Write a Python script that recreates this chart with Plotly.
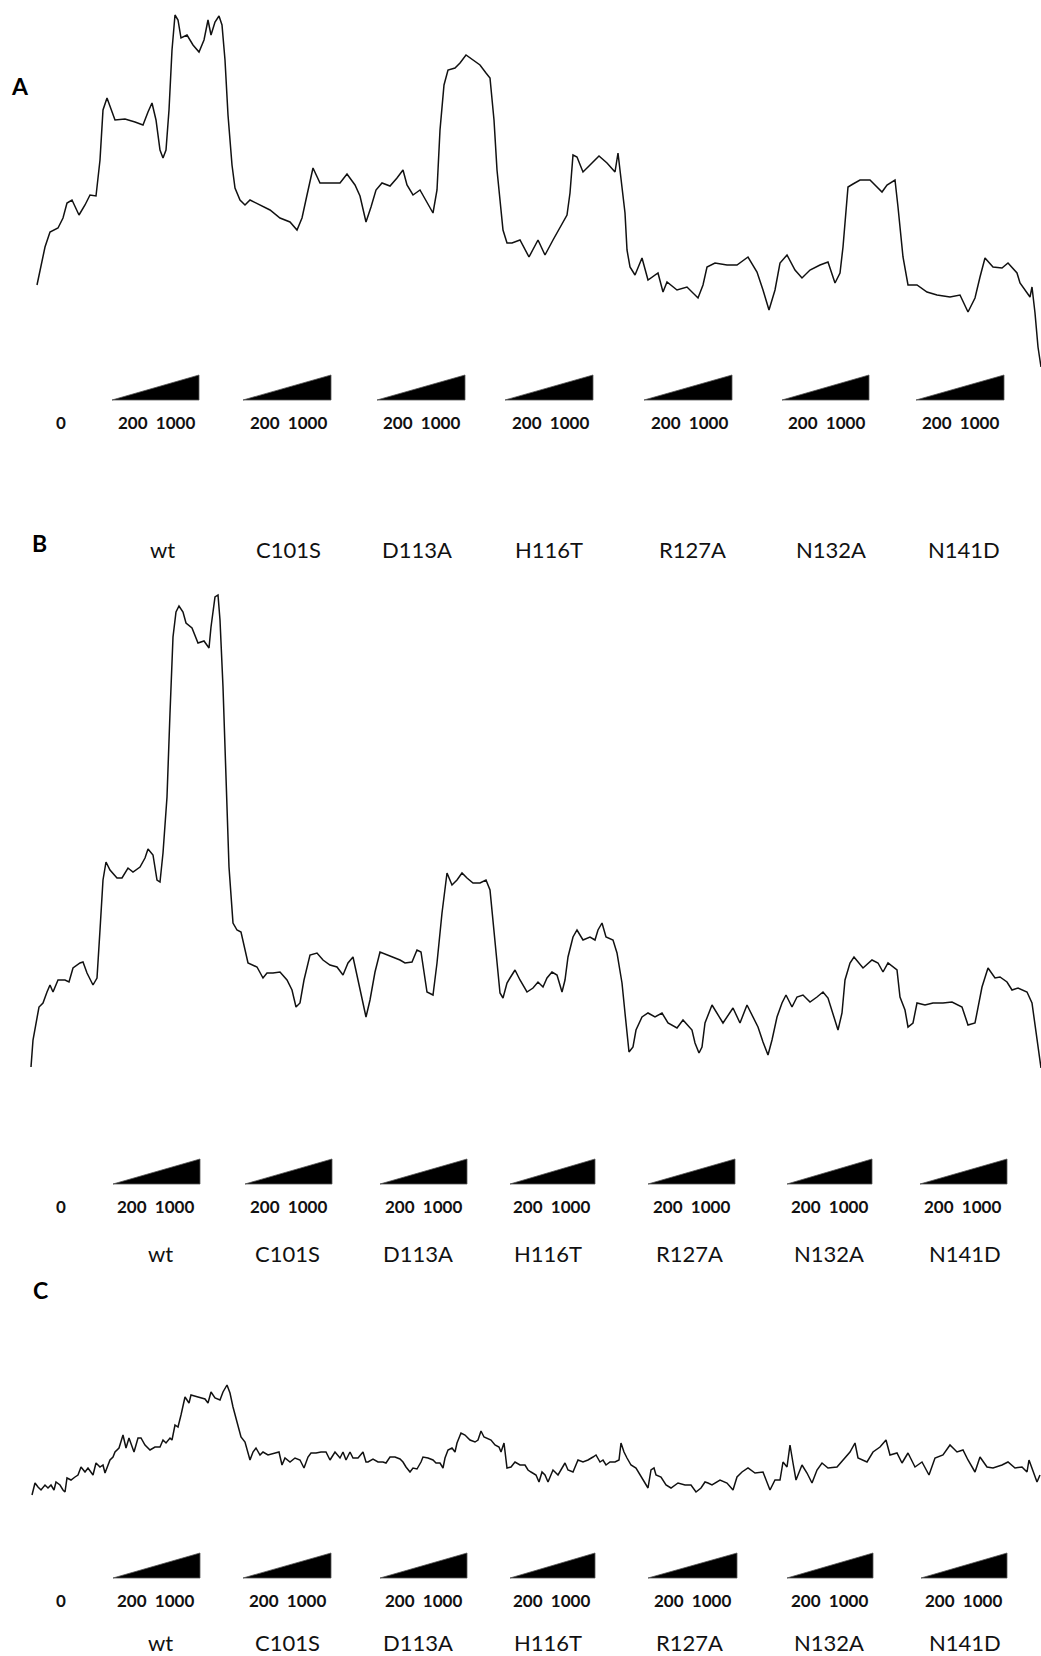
import plotly.graph_objects as go

W, H = 1041, 1656

# ---------------- data (scan position vs. band density) ----------------
A_pos = [37, 40, 45, 50, 58, 63, 67, 72, 79, 85,
         90, 96, 100, 103, 107, 115, 125, 135, 143, 148,
         152, 156, 160, 163, 166, 169, 172, 175, 178, 181,
         187, 193, 199, 204, 208, 211, 215, 219, 222, 225,
         228, 232, 235, 240, 245, 250, 260, 270, 280, 290,
         297, 302, 307, 313, 320, 330, 340, 347, 355, 360,
         366, 371, 376, 382, 390, 397, 403, 407, 413, 420,
         426, 433, 437, 440, 444, 448, 455, 460, 466, 473,
         480, 486, 490, 494, 497, 500, 503, 507, 512, 520,
         529, 538, 545, 553, 560, 567, 570, 573, 577, 583,
         590, 599, 607, 615, 618, 622, 625, 627, 630, 635,
         642, 648, 658, 663, 667, 677, 687, 698, 703, 707,
         715, 727, 737, 748, 757, 763, 769, 775, 780, 787,
         795, 802, 810, 820, 828, 835, 840, 843, 848, 853,
         860, 870, 882, 887, 895, 898, 903, 908, 917, 927,
         937, 950, 960, 968, 975, 980, 985, 993, 1002, 1008,
         1017, 1020, 1030, 1032, 1035, 1038, 1041]
A_density = [115, 130, 153, 168, 172, 182, 197, 200, 185, 195,
             205, 204, 240, 290, 302, 280, 281, 278, 275, 288,
             297, 280, 250, 242, 250, 290, 350, 385, 380, 362,
             365, 355, 348, 360, 380, 365, 378, 384, 375, 340,
             285, 235, 212, 200, 195, 200, 195, 190, 182, 178,
             170, 182, 205, 232, 217, 217, 217, 226, 215, 204,
             178, 193, 210, 217, 214, 222, 230, 215, 205, 210,
             200, 187, 210, 270, 315, 330, 332, 337, 345, 340,
             335, 327, 322, 280, 230, 200, 170, 157, 157, 160,
             143, 160, 145, 160, 173, 185, 207, 245, 243, 228,
             235, 244, 237, 228, 247, 213, 187, 150, 133, 125,
             142, 120, 127, 108, 118, 110, 113, 102, 115, 133,
             137, 135, 135, 143, 128, 110, 90, 110, 137, 145,
             130, 122, 130, 135, 138, 117, 127, 153, 213, 216,
             220, 220, 208, 215, 220, 193, 143, 115, 115, 108,
             105, 103, 105, 88, 102, 123, 142, 133, 132, 137,
             127, 117, 103, 113, 87, 53, 33]

B_pos = [31, 33, 39, 43, 47, 50, 53, 58, 65, 69,
         73, 80, 83, 87, 93, 97, 100, 103, 106, 110,
         117, 122, 128, 133, 140, 145, 148, 153, 157, 160,
         163, 167, 170, 173, 176, 179, 183, 186, 192, 198,
         204, 209, 211, 215, 218, 220, 223, 226, 229, 233,
         237, 241, 248, 257, 263, 267, 273, 280, 287, 292,
         296, 300, 304, 310, 317, 323, 330, 337, 343, 348,
         353, 358, 366, 370, 375, 380, 387, 393, 400, 405,
         412, 417, 421, 427, 433, 437, 442, 447, 452, 457,
         462, 467, 473, 480, 486, 490, 493, 497, 500, 503,
         507, 510, 515, 520, 527, 533, 538, 543, 547, 552,
         557, 562, 565, 568, 573, 577, 583, 590, 595, 598,
         602, 606, 613, 617, 622, 625, 629, 633, 636, 642,
         648, 655, 662, 668, 677, 683, 692, 695, 699, 702,
         705, 712, 717, 723, 733, 740, 747, 753, 758, 763,
         768, 772, 777, 782, 786, 792, 797, 803, 810, 817,
         823, 828, 833, 838, 842, 845, 850, 854, 863, 872,
         878, 883, 888, 897, 900, 905, 908, 913, 917, 925,
         933, 943, 952, 962, 968, 975, 982, 988, 995, 1000,
         1007, 1012, 1018, 1027, 1032, 1035, 1038, 1041]
B_density = [33, 60, 93, 97, 108, 115, 108, 120, 120, 118,
             132, 137, 138, 127, 115, 122, 170, 220, 238, 230,
             222, 222, 232, 228, 233, 242, 251, 245, 220, 218,
             247, 303, 387, 463, 488, 494, 488, 477, 472, 457,
             459, 452, 473, 503, 505, 480, 413, 327, 233, 177,
             170, 168, 137, 133, 122, 127, 127, 128, 120, 110,
             93, 97, 120, 145, 147, 140, 135, 133, 125, 137,
             143, 120, 83, 100, 128, 148, 145, 143, 140, 137,
             138, 150, 148, 108, 105, 137, 187, 227, 215, 220,
             227, 222, 217, 217, 220, 210, 180, 137, 107, 102,
             117, 122, 130, 120, 108, 112, 118, 113, 122, 128,
             125, 108, 120, 143, 163, 170, 160, 163, 160, 170,
             177, 163, 160, 147, 117, 87, 48, 53, 70, 83,
             87, 83, 87, 77, 72, 80, 70, 57, 47, 53,
             77, 95, 87, 77, 92, 77, 95, 83, 73, 58,
             45, 60, 83, 97, 105, 93, 103, 105, 98, 103,
             108, 102, 87, 70, 87, 120, 137, 143, 132, 140,
             137, 128, 137, 130, 103, 90, 73, 77, 97, 95,
             97, 97, 98, 93, 75, 77, 113, 132, 122, 123,
             118, 110, 112, 108, 97, 77, 53, 32]

C_pos = [32, 35, 38, 41, 45, 48, 51, 54, 56, 60,
         63, 65, 67, 71, 75, 78, 81, 85, 88, 93,
         96, 100, 103, 105, 110, 113, 115, 119, 123, 126,
         129, 131, 134, 138, 141, 145, 150, 155, 160, 163,
         166, 170, 172, 175, 178, 181, 183, 185, 189, 191,
         198, 205, 208, 211, 215, 220, 223, 227, 230, 233,
         237, 241, 245, 248, 250, 253, 256, 260, 263, 268,
         275, 279, 282, 285, 290, 295, 300, 304, 308, 311,
         316, 321, 326, 330, 335, 340, 343, 346, 350, 353,
         358, 363, 366,
         368, 373, 378, 383, 386, 390, 395, 400, 403, 406,
         410, 413, 417, 421, 423, 428, 433, 436, 440, 443,
         445, 448, 452, 455, 457, 461, 465, 470, 475, 478,
         481, 484, 487, 491, 495, 499, 501, 504, 507, 511,
         515, 520, 525, 528, 531, 536, 539, 542, 545, 548,
         553, 558, 565, 568, 573, 578, 583, 588, 593, 596,
         600, 603, 606, 610, 615, 619, 621, 624, 627, 631,
         636, 640, 645, 648, 651, 654, 656, 661, 666, 671,
         678, 685, 691, 696, 701, 705, 708,
         712, 720, 727, 733, 737, 742, 748, 755, 763, 770,
         775, 780, 783, 787, 790, 793, 796, 802, 807, 812,
         817, 822, 828, 837, 843, 850, 855, 858, 867, 873,
         880, 886, 890, 897, 902, 908, 915, 922, 929, 935,
         943, 950, 957, 963, 968, 975, 980, 987, 993, 1002,
         1008, 1015, 1022, 1027, 1029, 1033, 1037, 1040]
C_density = [35, 47, 43, 40, 45, 42, 45, 40, 48, 45,
             40, 38, 52, 50, 53, 55, 63, 58, 62, 55,
             67, 63, 65, 57, 70, 73, 78, 82, 95, 82,
             92, 87, 78, 92, 92, 85, 80, 83, 83, 90,
             87, 92, 90, 105, 103, 115, 125, 133, 127, 135,
             133, 131, 127, 138, 132, 130, 138, 145, 137, 123,
             108, 93, 88, 78, 70, 78, 82, 75, 78, 75,
             77, 78, 65, 72, 68, 72, 70, 62, 73, 77,
             77, 78, 78, 70, 78, 72, 78, 70, 78, 72,
             72, 78, 68,
             68, 71, 68, 68, 67, 73, 73, 71, 68, 63,
             58, 62, 61, 68, 73, 72, 70, 67, 67, 62,
             72, 80, 82, 78, 87, 97, 95, 90, 88, 90,
             99, 93, 92, 90, 85, 83, 78, 87, 62, 63,
             68, 65, 65, 60, 58, 55, 48, 58, 55, 48,
             60, 55, 67, 60, 58, 70, 68, 70, 73, 75,
             68, 70, 65, 68, 68, 70, 87, 78, 72, 65,
             62, 55, 47, 42, 60, 62, 55, 53, 45, 42,
             47, 45, 45, 38, 42, 48, 47,
             45, 50, 47, 40, 53, 58, 62, 57, 58, 40,
             50, 50, 68, 63, 85, 67, 50, 65, 57, 47,
             60, 67, 62, 63, 70, 78, 87, 72, 68, 78,
             83, 90, 75, 77, 67, 77, 63, 68, 55, 72,
             75, 85, 78, 80, 70, 58, 73, 63, 62, 65,
             68, 62, 63, 58, 70, 58, 48, 55]

lanes = ["wt", "C101S", "D113A", "H116T", "R127A", "N132A", "N141D"]
dose_zero = "0"
dose_range = "200\u00a0\u00a01000"
panel_letters = ["A", "B", "C"]

# ---------------- layout geometry (pixels) ----------------
panels = [
    dict(x=A_pos, y=A_density, base=400, top=0,
         w_top=375, w_bot=400,
         w_left=[112, 243, 377, 505, 644, 782, 916],
         w_right=[199, 331, 465, 593, 732, 869, 1004],
         num_y=422, num_cx=[156, 288, 421, 550, 689, 826, 960],
         lab_y=550, lab_cx=[162, 288, 417, 549, 692, 831, 964]),
    dict(x=B_pos, y=B_density, base=1100, top=560,
         w_top=1159, w_bot=1184,
         w_left=[113, 245, 380, 510, 648, 787, 920],
         w_right=[200, 332, 467, 595, 735, 872, 1007],
         num_y=1206, num_cx=[155, 288, 423, 551, 691, 829, 962],
         lab_y=1253, lab_cx=[160, 287, 418, 548, 689, 829, 965]),
    dict(x=C_pos, y=C_density, base=1530, top=1300,
         w_top=1553, w_bot=1578,
         w_left=[113, 243, 380, 510, 648, 787, 921],
         w_right=[200, 331, 467, 595, 737, 873, 1007],
         num_y=1600, num_cx=[155, 287, 423, 551, 692, 829, 963],
         lab_y=1642, lab_cx=[160, 287, 418, 548, 689, 829, 965]),
]
letter_xy = [(20, 86), (39, 543), (40, 1290)]


def px(x):
    return x / W


def py(y):
    return 1 - y / H


fig = go.Figure()
layout_axes = {}
annotations = []
shapes = []

for i, p in enumerate(panels):
    n = "" if i == 0 else str(i + 1)
    fig.add_trace(go.Scatter(
        x=p["x"], y=p["y"], mode="lines",
        line=dict(color="#111111", width=1.5),
        xaxis="x" + n, yaxis="y" + n, showlegend=False, hoverinfo="skip"))
    layout_axes["xaxis" + n] = dict(domain=[0, 1], range=[0, W], visible=False,
                                    fixedrange=True)
    layout_axes["yaxis" + n] = dict(domain=[py(p["base"]), py(p["top"])],
                                    range=[0, p["base"] - p["top"]],
                                    visible=False, fixedrange=True)

    # concentration wedges
    for l, r in zip(p["w_left"], p["w_right"]):
        path = (f"M {px(l)},{py(p['w_bot'])} L {px(r)},{py(p['w_top'])} "
                f"L {px(r)},{py(p['w_bot'])} Z")
        shapes.append(dict(type="path", xref="paper", yref="paper", path=path,
                           fillcolor="black", line=dict(color="#555555", width=0.8)))

    # dose numbers
    annotations.append(dict(x=px(61), y=py(p["num_y"]), text=dose_zero,
                            xref="paper", yref="paper", showarrow=False,
                            xanchor="center", yanchor="middle",
                            font=dict(family="Lato", size=17, color="#111111",
                                      weight="bold")))
    for cx in p["num_cx"]:
        annotations.append(dict(x=px(cx), y=py(p["num_y"]), text=dose_range,
                                xref="paper", yref="paper", showarrow=False,
                                xanchor="center", yanchor="middle",
                                font=dict(family="Lato", size=17, color="#111111",
                                          weight="bold")))
    # mutant labels
    for cx, lab in zip(p["lab_cx"], lanes):
        annotations.append(dict(x=px(cx), y=py(p["lab_y"]), text=lab,
                                xref="paper", yref="paper", showarrow=False,
                                xanchor="center", yanchor="middle",
                                font=dict(family="Lato", size=22, color="#111111")))

for (lx, ly), letter in zip(letter_xy, panel_letters):
    annotations.append(dict(x=px(lx), y=py(ly), text=letter,
                            xref="paper", yref="paper", showarrow=False,
                            xanchor="center", yanchor="middle",
                            font=dict(family="Lato", size=23, color="black",
                                      weight="bold")))

fig.update_layout(
    width=W, height=H,
    margin=dict(l=0, r=0, t=0, b=0),
    paper_bgcolor="white", plot_bgcolor="white",
    annotations=annotations, shapes=shapes,
    **layout_axes)

fig.write_html(
    "out.html",
    config={"displayModeBar": False, "staticPlot": True},
    post_script=("document.documentElement.style.margin='0';"
                 "document.documentElement.style.padding='0';"
                 "document.body.style.margin='0';"
                 "document.body.style.padding='0';"
                 "document.body.style.overflow='hidden';"))
